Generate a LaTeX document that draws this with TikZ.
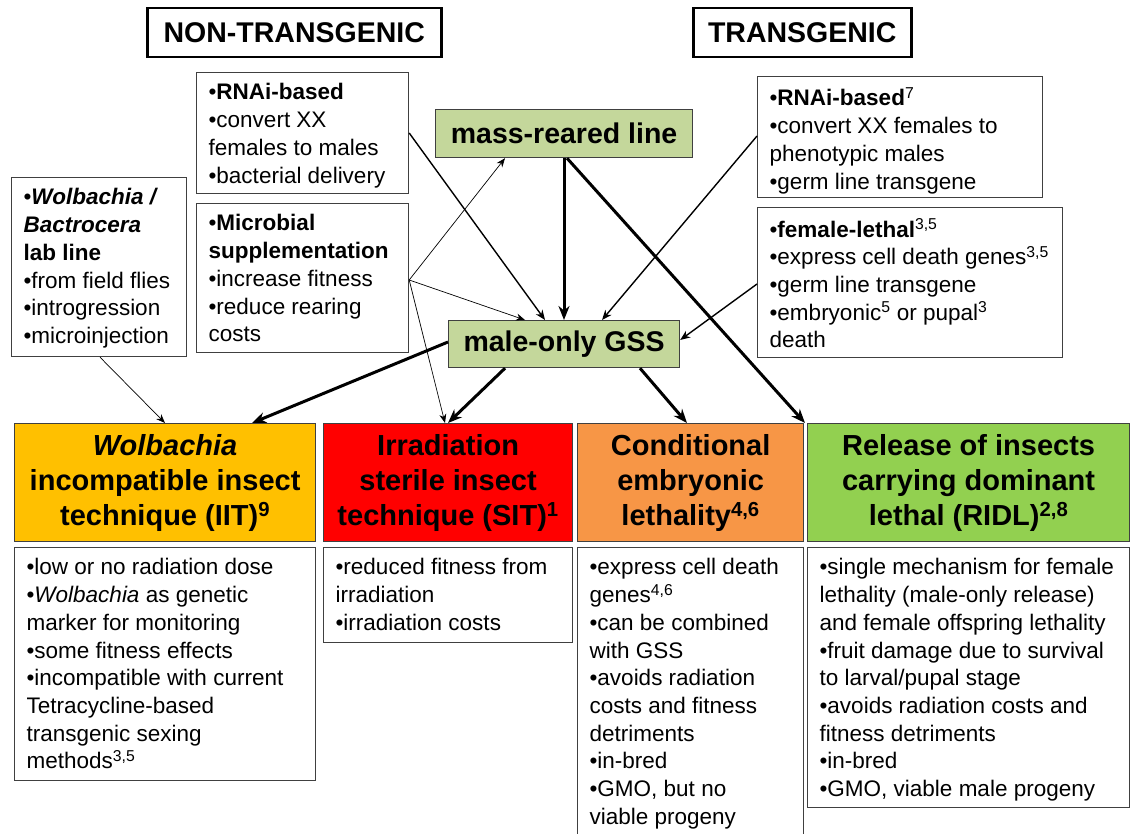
\documentclass[tikz,border=0pt]{standalone}
\usepackage{fontspec}
\setmainfont{Liberation Sans}
\usetikzlibrary{arrows.meta}
\definecolor{iitcol}{HTML}{FFC000}
\definecolor{sitcol}{HTML}{FF0000}
\definecolor{cebcol}{HTML}{F79646}
\definecolor{ridlcol}{HTML}{92D050}
\definecolor{linecol}{HTML}{C4D79B}
\definecolor{edgecol}{HTML}{404040}
\newcommand{\bodyfont}{\fontsize{22.5}{27.7}\selectfont}
\newcommand{\headfont}{\fontsize{29}{35}\selectfont\bfseries}
\newcommand{\inbox}[3]{\parbox[c][#2pt][t]{#1pt}{\raggedright\leftskip=12pt\relax\vspace*{11pt}#3}}
\tikzset{
  infobox/.style={draw=edgecol, line width=1.2pt, anchor=north west, inner sep=0pt, font=\bodyfont},
  headbox/.style={draw=edgecol, line width=1.2pt, anchor=north west, inner sep=0pt, align=center, font=\headfont},
  titlebox/.style={draw=black, line width=2.5pt, anchor=north west, inner sep=0pt, font=\fontsize{28.5}{34}\selectfont\bfseries},
  stockbox/.style={draw=edgecol, line width=1.2pt, fill=linecol, anchor=north west, inner sep=0pt, font=\fontsize{28.5}{34}\selectfont\bfseries},
  thinarrow/.style={-{Stealth[length=9pt,width=7pt]}, line width=0.7pt},
  medarrow/.style={-{Stealth[length=10pt,width=8pt]}, line width=1.4pt},
  thickarrow/.style={-{Stealth[length=14pt,width=11pt]}, line width=3pt}
}
\begin{document}
\begin{tikzpicture}[x=1pt,y=-1pt]
\useasboundingbox (0,0) rectangle (1131,834);
% headings
\node[titlebox, minimum width=294pt, minimum height=49pt] (nonTg) at (146,7) {NON-TRANSGENIC};
\node[titlebox, minimum width=218pt, minimum height=49pt] (tg) at (692,7) {TRANSGENIC};

% sexing and line sources
\node[infobox] (wolbLab) at (11,177) {\inbox{175}{179}{•\textbf{\textit{Wolbachia /}}\\\textbf{\textit{Bactrocera}}\\\textbf{lab line}\\•from field flies\\•introgression\\•microinjection}};
\node[infobox] (rnaiNT) at (196,72) {\inbox{212}{121}{•\textbf{RNAi-based}\\•convert XX\\females to males\\•bacterial delivery}};
\node[infobox] (microb) at (196,203) {\inbox{212}{149}{•\textbf{Microbial}\\\textbf{supplementation}\\•increase fitness\\•reduce rearing\\costs}};
\node[infobox] (rnaiT) at (757,76) {\inbox{285}{121}{•\textbf{RNAi-based}\textsuperscript{7}\\•convert XX females to\\phenotypic males\\•germ line transgene}};
\node[infobox] (femLethal) at (757,207) {\inbox{305}{150}{•\textbf{female-lethal}\textsuperscript{3,5}\\•express cell death genes\textsuperscript{3,5}\\•germ line transgene\\•embryonic\textsuperscript{5} or pupal\textsuperscript{3}\\death}};

\node[stockbox, minimum width=257pt, minimum height=48pt] (massLine) at (435,109) {mass-reared line};
\node[stockbox, minimum width=231pt, minimum height=47pt] (gss) at (448,320) {male-only GSS};

% techniques
\node[headbox, fill=iitcol, minimum width=301pt, minimum height=118pt] (iitHead) at (14,423) {\textit{Wolbachia}\\incompatible insect\\technique (IIT)\textsuperscript{9}};
\node[headbox, fill=sitcol, minimum width=249pt, minimum height=118pt] (sitHead) at (323,423) {Irradiation\\sterile insect\\technique (SIT)\textsuperscript{1}};
\node[headbox, fill=cebcol, minimum width=226pt, minimum height=118pt] (cebHead) at (577,423) {Conditional\\embryonic\\lethality\textsuperscript{4,6}};
\node[headbox, fill=ridlcol, minimum width=322pt, minimum height=118pt] (ridlHead) at (807,423) {Release of insects\\carrying dominant\\lethal (RIDL)\textsuperscript{2,8}};

\node[infobox] (iitBody) at (14,547) {\inbox{301}{233}{•low or no radiation dose\\•\textit{Wolbachia} as genetic\\marker for monitoring\\•some fitness effects\\•incompatible with current\\Tetracycline-based\\transgenic sexing\\methods\textsuperscript{3,5}}};
\node[infobox] (sitBody) at (323,547) {\inbox{249}{95}{•reduced fitness from\\irradiation\\•irradiation costs}};
\node[infobox] (cebBody) at (577,547) {\inbox{226}{300}{•express cell death\\genes\textsuperscript{4,6}\\•can be combined\\with GSS\\•avoids radiation\\costs and fitness\\detriments\\•in-bred\\•GMO, but no\\viable progeny}};
\node[infobox] (ridlBody) at (807,547) {\inbox{322}{260}{•single mechanism for female\\lethality (male-only release)\\and female offspring lethality\\•fruit damage due to survival\\to larval/pupal stage\\•avoids radiation costs and\\fitness detriments\\•in-bred\\•GMO, viable male progeny}};

% connectors
\coordinate (mfan) at ([yshift=-77pt]microb.north east);
\draw[thinarrow] (mfan) -- ([xshift=70pt]massLine.south west);
\draw[thinarrow] (mfan) -- ([xshift=77pt]gss.north west);
\draw[thinarrow] (mfan) -- ([xshift=122pt]sitHead.north west);
\draw[thinarrow] ([xshift=89pt]wolbLab.south west) -- ([xshift=151pt]iitHead.north west);
\draw[medarrow] ([yshift=-61pt]rnaiNT.north east) -- ([xshift=97pt]gss.north west);
\draw[medarrow] ([yshift=-60pt]rnaiT.north west) -- ([xshift=154pt]gss.north west);
\draw[medarrow] ([yshift=-77pt]femLethal.north west) -- ([yshift=-20pt]gss.north east);
\draw[thickarrow] ([xshift=129pt]massLine.south west) -- ([xshift=116pt]gss.north west);
\draw[thickarrow] ([xshift=132pt]massLine.south west) -- ([xshift=-2pt]ridlHead.north west);
\draw[thickarrow] ([yshift=-22pt]gss.north west) -- ([xshift=238pt]iitHead.north west);
\draw[thickarrow] ([xshift=57pt]gss.south west) -- ([xshift=125pt]sitHead.north west);
\draw[thickarrow] ([xshift=192pt]gss.south west) -- ([xshift=110pt]cebHead.north west);
\end{tikzpicture}
\end{document}
